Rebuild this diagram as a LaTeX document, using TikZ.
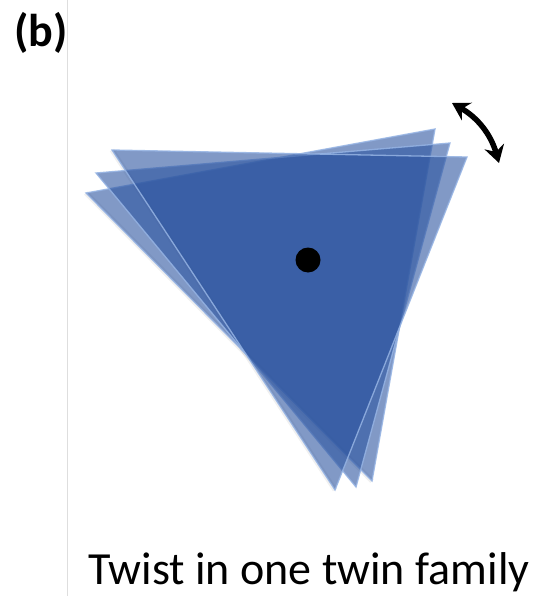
\documentclass[tikz,border=0pt]{standalone}
\usepackage{fontspec}
\setmainfont{Carlito}
\usetikzlibrary{arrows.meta}
\definecolor{triblue}{RGB}{45,85,160}
\definecolor{triedge}{RGB}{150,180,228}
\definecolor{vline}{RGB}{222,222,222}
\tikzset{
  tri/.style={fill=triblue, fill opacity=0.6, draw=triedge, draw opacity=0.85, line width=1.3pt, line join=miter},
  triglow/.style={draw=black, draw opacity=0.06, line width=5pt, line join=round},
  twistarrow/.style={line width=5.5pt, {Stealth[length=17pt,width=20pt]}-{Stealth[length=17pt,width=20pt]}}
}
\begin{document}
\begin{tikzpicture}[x=1pt,y=-1pt]
\useasboundingbox (0,0) rectangle (552,596);
\fill[white] (0,0) rectangle (552,596);
\draw[vline, line width=1pt] (67,0) -- (67,596);
\node[anchor=base west, inner sep=0pt, font=\fontsize{46}{50}\selectfont\bfseries] (lbl) at (14,47) {(b)};
% three twisted triangles
\coordinate (a1) at (112,150); \coordinate (b1) at (467,157); \coordinate (c1) at (335,490);
\coordinate (a2) at (96,173);  \coordinate (b2) at (450,143); \coordinate (c2) at (356,487);
\coordinate (a3) at (86,193);  \coordinate (b3) at (435,129); \coordinate (c3) at (372,481);
\draw[triglow, shift={(-2,3)}] (a1) -- (c1);
\draw[triglow, shift={(-2,3)}] (a3) -- (c3);
\draw[tri] (a3) -- (b3) -- (c3) -- cycle;
\draw[tri] (a2) -- (b2) -- (c2) -- cycle;
\draw[tri] (a1) -- (b1) -- (c1) -- cycle;
\node[circle, fill=black, minimum size=25pt, inner sep=0pt] (dot) at (308,260) {};
\coordinate (ar1) at (452,103);
\coordinate (ar2) at (499,163);
\draw[twistarrow] (ar1) to[bend left=22] (ar2);
\node[anchor=base west, inner sep=0pt, font=\fontsize{46}{50}\selectfont] (cap) at (88,584) {Twist in one twin family};
\end{tikzpicture}
\end{document}
